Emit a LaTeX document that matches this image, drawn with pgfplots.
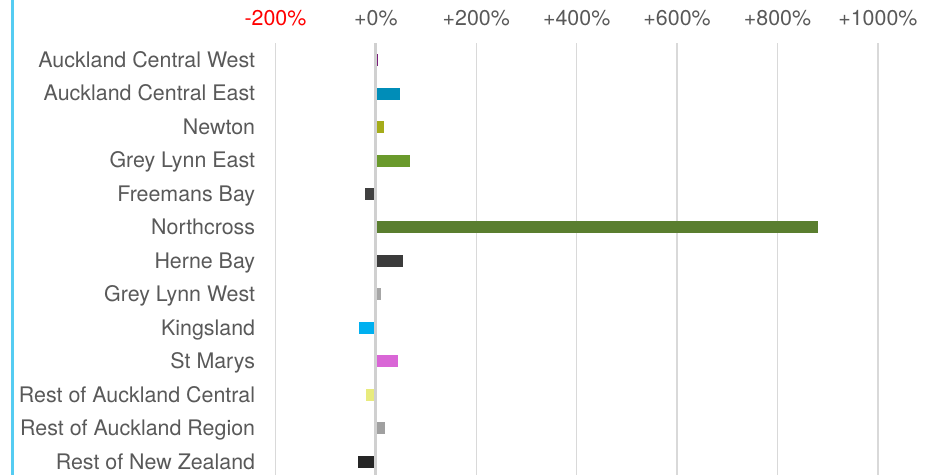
\documentclass[border=0pt]{standalone}
\usepackage{fontspec}
\setmainfont{TeX Gyre Heros}
\usepackage{pgfplots}
\pgfplotsset{compat=1.18}
\definecolor{txt}{HTML}{595959}
\definecolor{gridc}{HTML}{D9D9D9}
\definecolor{zeroc}{HTML}{D0D0D0}
\definecolor{leftblue}{HTML}{55CCF2}
\definecolor{cACW}{HTML}{7B1E7A}
\definecolor{cACE}{HTML}{008DB8}
\definecolor{cNEW}{HTML}{A5AC1A}
\definecolor{cGLE}{HTML}{6A9A2C}
\definecolor{cFB}{HTML}{404040}
\definecolor{cNC}{HTML}{5A7E2F}
\definecolor{cHB}{HTML}{3B3B3B}
\definecolor{cGLW}{HTML}{A6A6A6}
\definecolor{cKING}{HTML}{00B0F0}
\definecolor{cSM}{HTML}{D966D6}
\definecolor{cRAC}{HTML}{E8EB7D}
\definecolor{cRAR}{HTML}{A0A0A0}
\definecolor{cRNZ}{HTML}{262626}
\begin{document}
\begin{tikzpicture}
\useasboundingbox (-137.75pt,21.65pt) rectangle (331.75pt,-215.85pt);
\draw[color=leftblue, line width=1.5pt] (-131.5pt,21.65pt) -- (-131.5pt,-215.85pt);
\begin{axis}[
  at={(0,0)}, anchor=north west,
  scale only axis, width=301.2pt, height=216pt,
  bar width=6pt, bar shift=0pt,
  xmin=-200, xmax=1000, ymin=-0.4, ymax=12.5,
  axis line style={draw=none},
  major tick length=0pt,
  xtick={-200,0,200,400,600,800,1000},
  xticklabels={\textcolor{red}{-200\%},+0\%,+200\%,+400\%,+600\%,+800\%,+1000\%},
  xticklabel pos=upper,
  xmajorgrids,
  grid style={color=gridc, line width=0.75pt},
  ytick={0,...,12},
  yticklabels={Rest of New Zealand,Rest of Auckland Region,Rest of Auckland Central,St Marys,Kingsland,Grey Lynn West,Herne Bay,Northcross,Freemans Bay,Grey Lynn East,Newton,Auckland Central East,Auckland Central West},
  tick label style={font=\fontsize{10.7}{12}\selectfont, text=txt},
  xticklabel style={anchor=base, yshift=9pt, inner sep=0pt},
  yticklabel style={anchor=base east, yshift=-0.36em, xshift=-10pt, inner sep=0pt},
]
\addplot[xbar, fill=cACW, draw=none] coordinates {(5,12)};
\addplot[xbar, fill=cACE, draw=none] coordinates {(49,11)};
\addplot[xbar, fill=cNEW, draw=none] coordinates {(17,10)};
\addplot[xbar, fill=cGLE, draw=none] coordinates {(67,9)};
\addplot[xbar, fill=cFB, draw=none] coordinates {(-21,8)};
\addplot[xbar, fill=cNC, draw=none] coordinates {(881,7)};
\addplot[xbar, fill=cHB, draw=none] coordinates {(53,6)};
\addplot[xbar, fill=cGLW, draw=none] coordinates {(11,5)};
\addplot[xbar, fill=cKING, draw=none] coordinates {(-33,4)};
\addplot[xbar, fill=cSM, draw=none] coordinates {(45,3)};
\addplot[xbar, fill=cRAC, draw=none] coordinates {(-19,2)};
\addplot[xbar, fill=cRAR, draw=none] coordinates {(19,1)};
\addplot[xbar, fill=cRNZ, draw=none] coordinates {(-35,0)};
\addplot[color=zeroc, line width=1.5pt] coordinates {(0,-0.4) (0,12.5)};
\end{axis}
\end{tikzpicture}
\end{document}
